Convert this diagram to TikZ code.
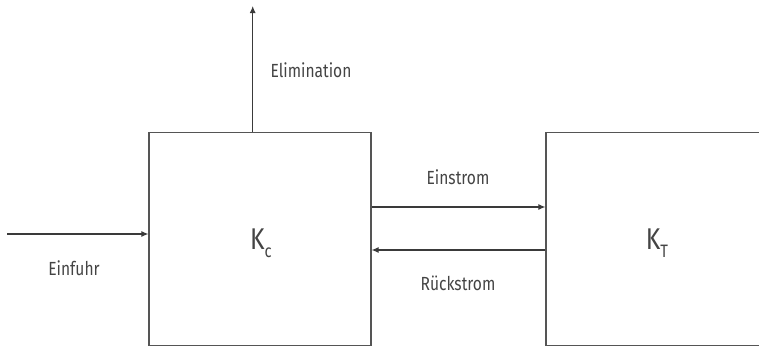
\documentclass[tikz,border=0pt]{standalone}
\usepackage{fontspec}
\setmainfont{Fira Sans}
\usetikzlibrary{arrows.meta}
\definecolor{linec}{HTML}{3A3A3A}
\definecolor{boxc}{HTML}{555555}
\definecolor{textc}{HTML}{444444}
\tikzset{
  compbox/.style={draw=boxc, line width=1.2pt, minimum width=222pt, minimum height=213pt, inner sep=0pt},
  klabel/.style={text=textc, font=\fontsize{30}{32}\selectfont, inner sep=0pt},
  flow/.style={draw=linec, line width=1.1pt, -{Latex[length=7pt,width=6pt]}},
  lbl/.style={text=textc, font=\fontsize{19}{21}\selectfont, inner sep=0pt}
}
\newcommand{\cond}[1]{\scalebox{0.82}[1]{#1}}
\newcommand{\ksub}[1]{\raisebox{-0.28em}{\fontsize{18}{20}\selectfont #1}}
\begin{document}
\begin{tikzpicture}[x=1pt,y=-1pt]
\useasboundingbox (0,0) rectangle (759,348);
\clip (0,0) rectangle (759,348);
\node[compbox] (kc) at (260,239) {};
\node[compbox] (kt) at (657,239) {};
\node[klabel] (kcl) at (261,243) {\cond{K\ksub{c}}};
\node[klabel] (ktl) at (657,243) {\cond{K\ksub{T}}};
\coordinate (elimtop) at (252.7,6);
\coordinate (einfstart) at (7,234);
\draw[flow] (kc.north -| elimtop) -- (elimtop);
\draw[flow] (einfstart) -- (einfstart -| kc.west);
\draw[flow] ([yshift=32pt]kc.east) -- ([yshift=32pt]kt.west);
\draw[flow] ([yshift=-11pt]kt.west) -- ([yshift=-11pt]kc.east);
\node[lbl] (elim) at (311,70) {\cond{Elimination}};
\node[lbl] (einfuhr) at (74,268) {\cond{Einfuhr}};
\node[lbl] (einstrom) at (458,177) {\cond{Einstrom}};
\node[lbl] (rueck) at (458,283) {\cond{Rückstrom}};
\end{tikzpicture}
\end{document}
